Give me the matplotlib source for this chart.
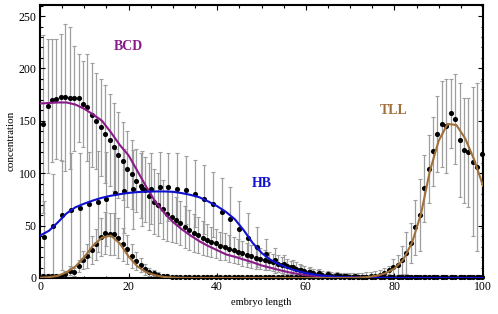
import numpy as np
import matplotlib
matplotlib.use("Agg")
import matplotlib.pyplot as plt
from matplotlib.ticker import MultipleLocator

# ---------------- data ----------------
# positions along the embryo
pos_bcd_tll = np.arange(100) + 0.7
pos_hb = np.arange(50) * 2 + 1.0
fit_x = np.arange(0, 101, 2)

bcd = [147, 164, 169.5, 171, 172.4, 172.4, 171.8, 171.5, 172, 165.7,
       162.8, 155.5, 150, 143.8, 137.4, 131.7, 125.3, 117, 111.6, 104,
       99, 93, 88, 84, 78, 73, 70, 65.5, 61.4, 58.2,
       55.3, 52.2, 48.4, 46.1, 43, 41, 38.2, 36.3, 34.4, 33.1,
       30.5, 29.9, 28, 26.5, 25, 23.5, 22.3, 20.8, 19.5, 18.4,
       17.2, 16.2, 14.8, 13.5, 12.4, 11.2, 10.2, 9, 7.8, 6.6,
       5.5, 4.5, 3.8, 3.2, 2.7, 2.3, 2, 1.8, 1.5, 1.3,
       1.2, 1.1, 1, 1, 1, 1, 1, 1, 1, 1,
       1, 1, 1, 1, 1, 1, 1, 1, 1, 1,
       1, 1, 1, 1, 1, 1, 1, 1, 1, 1]
bcd_err = [85, 64, 59, 57, 60, 70, 68, 50, 42, 41,
           51, 50, 46, 46, 47, 44, 42, 41, 37, 36,
           33, 30, 31, 31, 32, 31, 30, 28, 26, 24,
           22, 21, 20, 19, 18, 17, 16, 15, 14.5, 14,
           13.5, 13, 13, 12.5, 12, 12, 11.5, 11, 10.5, 10,
           9.5, 9, 8.5, 8, 7.5, 7, 6.5, 6, 5.5, 5,
           4.5, 4, 4, 3.5, 3.5, 3, 3, 3, 2.5, 2.5,
           2, 2, 2, 2, 2, 2, 2, 2, 2, 2,
           2, 2, 2, 2, 2, 2, 2, 2, 2, 2,
           2, 2, 2, 2, 2, 2, 2, 2, 2, 2]

hb = [38.8, 49.6, 60.1, 64.6, 67.1, 70.3, 72.8, 75.4, 80.8, 83,
      84.6, 85.5, 85.2, 86.5, 87.2, 85.2, 84, 80.5, 75, 70.3,
      63.3, 56.5, 47.2, 38.2, 29.8, 22.6, 16.8, 13, 10.2, 7.6,
      6, 4.5, 3.5, 2.5, 2, 1.5, 1, 1, 1, 1,
      1, 1, 1, 1, 1, 1, 1, 1, 1, 1]
hb_err = [35, 50, 52, 55, 52, 50, 48, 45, 42, 40,
          38, 36, 34, 34, 32.5, 34, 32, 32, 33, 31,
          32, 30, 26, 24, 19, 15, 12, 9, 7, 5,
          4.5, 4, 3.5, 3, 3, 2.5, 2, 2, 2, 2,
          2, 2, 2, 2, 2, 2, 2, 2, 2, 2]

tll = [2, 2, 1.5, 1.5, 2, 3.5, 7, 5.7, 11.5, 17.2,
       21, 26.7, 32.2, 38.8, 42.6, 42, 42, 38, 32, 27.4,
       21, 16.2, 12.4, 8.3, 6, 4.5, 2.9, 2, 1.5, 1.2,
       1, 1, 1, 1, 1, 1, 1, 1, 1, 1,
       1, 1, 1, 1, 1, 1, 1, 1, 1, 1,
       1, 1, 1, 1, 1, 1, 1, 1, 1, 1,
       1, 1, 1, 1, 1, 1, 1, 1, 1, 1,
       1, 1, 1, 1, 1.5, 2, 3, 5, 7.6, 10.5,
       12.5, 17, 24, 33.7, 48.2, 60, 85.6, 104, 121, 137.5,
       147, 145, 157, 152, 131.7, 122, 120, 111, 106, 118]
tll_err = [2, 2, 2, 2, 2, 3, 4, 4, 6, 9,
           11, 13, 15, 18, 20, 20, 20, 19, 16, 14,
           11, 9, 7, 5, 4, 3, 3, 2, 2, 2,
           2, 2, 2, 2, 2, 2, 2, 2, 2, 2,
           2, 2, 2, 2, 2, 2, 2, 2, 2, 2,
           2, 2, 2, 2, 2, 2, 2, 2, 2, 2,
           2, 2, 2, 2, 2, 2.5, 3, 3, 3.5, 3.5,
           4, 4, 4, 4.5, 4.5, 5, 5, 5, 4, 8,
           9.5, 13.5, 20, 19, 26, 34, 32, 32, 33, 36,
           41, 45, 33, 43, 54, 50, 52, 71, 80, 70]

bcd_fit = [166.5, 167, 167.5, 167.5, 165.5, 161.5, 156, 150, 139, 127,
           117, 102, 87, 73, 62.5, 53.5, 46.5, 40.5, 35, 30.5,
           26.5, 22.5, 20.2, 17.6, 15, 12, 9.8, 7.6, 5.6, 4,
           2.8, 2, 1.4, 1, 0.6, 0.4, 0.3, 0.2, 0.1, 0.1,
           0, 0, 0, 0, 0, 0, 0, 0, 0, 0, 0]
hb_fit = [40.5, 45, 53, 61.7, 67.5, 71, 74, 76.6, 78.5, 80,
          81.2, 82, 82.4, 82.6, 82.6, 82.3, 81, 79.3, 77, 73,
          68.5, 63, 56, 45.5, 33.5, 24, 17.5, 13, 9.5, 6.7,
          4.8, 3.3, 2.1, 1.4, 0.9, 0.6, 0.4, 0.3, 0.2, 0.1,
          0, 0, 0, 0, 0, 0, 0, 0, 0, 0, 0]
tll_fit = [0.3, 0.8, 2, 5.5, 11, 20, 31, 38.5, 40.5, 33,
           20.5, 11, 5.5, 2.6, 1, 0.4, 0.1,
           0, 0, 0, 0, 0, 0, 0, 0, 0, 0, 0, 0, 0, 0, 0, 0, 0, 0,
           0.1, 0.3, 0.9, 2.2, 4.5, 9, 17.5, 34, 61, 102,
           131, 147, 146, 133, 113, 88]

labels = ["BCD", "HB", "TLL"]
label_pos = [(20.0, 221), (50.1, 90), (79.9, 160)]

# ---------------- style ----------------
SERIF = ["Liberation Serif", "DejaVu Serif"]
plt.rcParams['font.family'] = SERIF
PURPLE = "#8a1a8a"
BLUE = "#1010d0"
BROWN = "#a0703a"
ERRC = "#9e9e9e"

fig = plt.figure(figsize=(4.98, 3.14), dpi=100)
ax = fig.add_axes([40 / 498, 1 - 278 / 314, 443 / 498, (278 - 4.5) / 314])

for xs, ys, es in [(pos_bcd_tll, bcd, bcd_err), (pos_hb, hb, hb_err), (pos_bcd_tll, tll, tll_err)]:
    ax.errorbar(xs, ys, yerr=es, fmt='none', ecolor=ERRC, elinewidth=0.9,
                capsize=1.6, capthick=0.8, zorder=1)

for xs, ys in [(pos_bcd_tll, bcd), (pos_hb, hb), (pos_bcd_tll, tll)]:
    ax.plot(xs, ys, 'o', color='black', ms=3.7, mew=0, zorder=2, clip_on=False)

ax.plot(fit_x, bcd_fit, color=PURPLE, lw=1.5, zorder=3)
ax.plot(fit_x, hb_fit, color=BLUE, lw=1.5, zorder=3)
ax.plot(fit_x, tll_fit, color=BROWN, lw=1.5, zorder=3)

for lab, (lx, ly), c in zip(labels, label_pos, [PURPLE, BLUE, BROWN]):
    ax.text(lx, ly, lab, color=c, fontsize=10, fontweight='bold',
            ha='center', va='center', family=SERIF)

ax.set_xlim(0, 100)
ax.set_ylim(0, 261)
ax.xaxis.set_major_locator(MultipleLocator(20))
ax.xaxis.set_minor_locator(MultipleLocator(5))
ax.yaxis.set_major_locator(MultipleLocator(50))
ax.yaxis.set_minor_locator(MultipleLocator(10))
ax.tick_params(which='both', direction='in', top=True, right=True,
               labelsize=8.5, width=0.8, colors='black')
ax.tick_params(which='major', length=3.5, pad=2.5)
ax.tick_params(which='minor', length=1.8)
for s in ax.spines.values():
    s.set_linewidth(1.5)

ax.set_xlabel("embryo length", fontsize=7.5, labelpad=3)
ax.set_ylabel("concentration", fontsize=8, labelpad=2)

fig.savefig("out.png", dpi=100)
